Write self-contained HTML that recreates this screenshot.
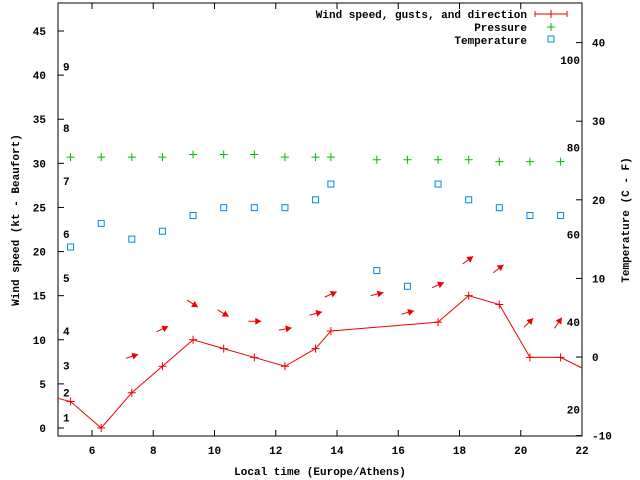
<!DOCTYPE html>
<html><head><meta charset="utf-8"><style>
html,body{margin:0;padding:0;background:#fff;}
svg{display:block;font-family:"Liberation Mono",monospace;font-weight:bold;font-size:11px;}
</style></head><body>
<svg id="chart" width="640" height="480" xmlns="http://www.w3.org/2000/svg">
<g id="axes"></g>
<g id="marks"></g>
<g id="legend">
<text x="527" y="18" text-anchor="end">Wind speed, gusts, and direction</text>
<line x1="535" y1="14" x2="567" y2="14" stroke="#e00" stroke-width="1"/>
<line x1="535" y1="11" x2="535" y2="17" stroke="#e00"/>
<line x1="567" y1="11" x2="567" y2="17" stroke="#e00"/>
<path d="M547,14h8M551,10v8" stroke="#e00"/>
<text x="527" y="31" text-anchor="end">Pressure</text>
<path d="M547,27h8M551,23v8" stroke="#0b0"/>
<text x="527" y="44" text-anchor="end">Temperature</text>
<rect x="548" y="36" width="6" height="6" fill="none" stroke="#08e"/>
</g>
</svg>
<script>
const times=[5.3,6.3,7.3,8.3,9.3,10.3,11.3,12.3,13.3,13.8,15.3,16.3,17.3,18.3,19.3,20.3,21.3];
const windTimes=[5.3,6.3,7.3,8.3,9.3,10.3,11.3,12.3,13.3,13.8,17.3,18.3,19.3,20.3,21.3];
const windSpeed=[3,0,4,7,10,9,8,7,9,11,12,15,14,8,8];
const pressure=[30.7,30.7,30.7,30.7,31.0,31.0,31.0,30.7,30.7,30.7,30.4,30.4,30.4,30.4,30.2,30.2,30.2];
const temperatureC=[14,17,15,16,18,19,19,19,20,22,11,9,22,20,19,18,18];
const arrowTimes=[7.3,8.3,9.3,10.3,11.3,12.3,13.3,13.8,15.3,16.3,17.3,18.3,19.3,20.3,21.3];
const gust=[7.9,10.9,14.5,13.4,12.1,11.1,12.8,14.85,15,12.9,15.9,18.6,17.6,11.4,11.3];
const arrowAngle=[-18,-25,33,32,0,-10,-14,-24,-14,-15,-24,-36,-38,-45,-56];
const xTicks=[6,8,10,12,14,16,18,20,22];
const yTicks=[0,5,10,15,20,25,30,35,40,45];
const cTicks=[-10,0,10,20,30,40];
const fLabels=["100","80","60","40","20"];
const fValues=[100,80,60,40,20];
const bftLabels=["1","2","3","4","5","6","7","8","9"];
const bftValues=[1.2,4,7.1,11,17,22,28,34,41];
const L=58,R=582,T=3,B=436;
const X=t=>92+(t-6)*30.625;
const Y=v=>428-v*8.822;
const YC=c=>357-c*7.86;
const YF=f=>YC((f-32)*5/9);
const NS="http://www.w3.org/2000/svg";
const axes=document.getElementById('axes'),marks=document.getElementById('marks');
function mk(tag,attrs,parent,text){const e=document.createElementNS(NS,tag);for(const k in attrs)e.setAttribute(k,attrs[k]);if(text!==undefined)e.textContent=text;parent.appendChild(e);return e;}
let e;
e=mk('rect',{x:L,y:T,width:R-L,height:B-T,fill:'none',stroke:'#000'},axes);


xTicks.forEach(t=>{const x=X(t);
 e=mk('path',{d:`M${x},${B}v-6M${x},${T}v6`,stroke:'#000'},axes);
 
 
 e=mk('text',{x:x,y:B+18,'text-anchor':'middle'},axes,String(t));
 
 });
yTicks.forEach(v=>{const y=Y(v);
 e=mk('path',{d:`M${L},${y}h6`,stroke:'#000'},axes);
 
 
 e=mk('text',{x:46,y:y+4,'text-anchor':'end'},axes,String(v));
 
 });
cTicks.forEach(c=>{const y=YC(c);
 e=mk('path',{d:`M${R},${y}h-6`,stroke:'#000'},axes);
 
 
 e=mk('text',{x:592,y:y+4},axes,String(c));
 
 });
fLabels.forEach((s,i)=>{
 e=mk('text',{x:580,y:YF(fValues[i])+4,'text-anchor':'end'},axes,s);
 
 });
bftLabels.forEach((s,i)=>{
 e=mk('text',{x:63,y:Y(bftValues[i])+4},axes,s);
 
 });
e=mk('text',{x:320,y:475,'text-anchor':'middle'},axes,'Local time (Europe/Athens)');


e=mk('text',{x:0,y:0,'text-anchor':'middle',transform:'translate(19,220) rotate(-90)'},axes,'Wind speed (kt - Beaufort)');


e=mk('text',{x:0,y:0,'text-anchor':'middle',transform:'translate(629,220) rotate(-90)'},axes,'Temperature (C - F)');


// wind line (extend to borders)
let pts=windTimes.map((t,i)=>[X(t),Y(windSpeed[i])]);
const p0=[L,Y(3.35)],pN=[R,Y(6.8)];
e=mk('polyline',{points:[p0,...pts,pN].map(p=>p.join(',')).join(' '),fill:'none',stroke:'#e00'},marks);


pts.forEach(p=>{
 e=mk('path',{d:`M${p[0]-4},${p[1]}h8M${p[0]},${p[1]-4}v8`,stroke:'#e00'},marks);
 
 });
times.forEach((t,i)=>{const x=X(t),y=Y(pressure[i]);
 e=mk('path',{d:`M${x-4},${y}h8M${x},${y-4}v8`,stroke:'#0b0'},marks);
 
 });
times.forEach((t,i)=>{const x=X(t),y=YC(temperatureC[i]);
 e=mk('rect',{x:x-3,y:y-3,width:6,height:6,fill:'none',stroke:'#08e'},marks);
 
 });
arrowTimes.forEach((t,i)=>{const x=X(t)-6,y=Y(gust[i]);const a=arrowAngle[i]*Math.PI/180;
 const len=13,ex=x+len*Math.cos(a),ey=y+len*Math.sin(a);
 const hl=6,hw=3.5,bx=ex-hl*Math.cos(a),by=ey-hl*Math.sin(a);
 const nx=-Math.sin(a)*hw,ny=Math.cos(a)*hw;
 e=mk('line',{x1:x,y1:y,x2:ex,y2:ey,stroke:'#e00'},marks);
 
 
 e=mk('polygon',{points:`${ex},${ey} ${bx+nx},${by+ny} ${bx-nx},${by-ny}`,fill:'#e00'},marks);
 
 });
</script>
</body></html>
